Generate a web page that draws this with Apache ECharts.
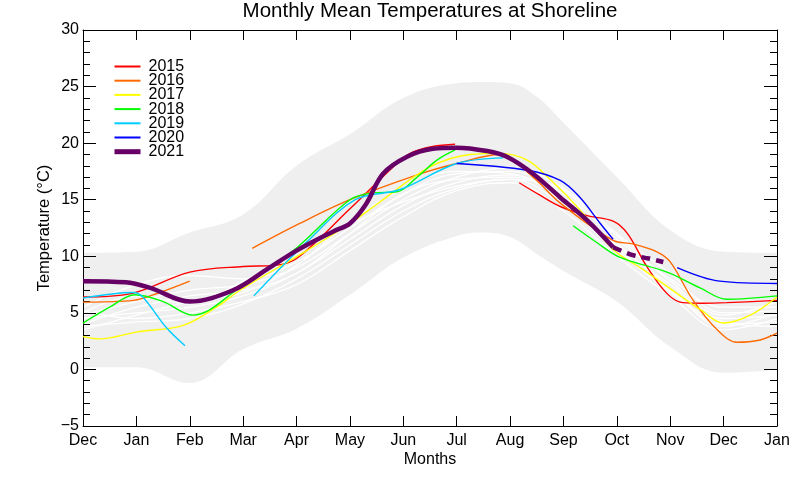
<!DOCTYPE html>
<html><head><meta charset="utf-8">
<script src="https://cdn.jsdelivr.net/npm/echarts@6/dist/echarts.min.js"></script>
<style>html,body{margin:0;padding:0;background:#fff}#c{width:800px;height:480px}</style>
</head><body><div id="c"></div>
<script>
// ---- tick labels ----
const monthTicks = ['Dec','Jan','Feb','Mar','Apr','May','Jun','Jul','Aug','Sep','Oct','Nov','Dec','Jan'];
const years = ['2015','2016','2017','2018','2019','2020','2021'];

// ---- grey envelope (x in months from Dec) ----
const bandX     = [0, 1, 2, 3, 4, 5, 6, 7, 7.5, 8, 8.5, 9, 10, 11, 12, 13];
const bandLower = [0.2, 0.2, -1.2, 1.8, 3.6, 6.6, 9.9, 11.8, 12.1, 11.7, 10.2, 8.7, 6.0, 2.0, -0.3, 0.0];
const bandUpper = [10.3, 10.4, 12.1, 13.7, 18.0, 20.8, 24.0, 25.3, 25.4, 25.3, 24.1, 21.8, 17.0, 12.3, 10.4, 10.3];

// ---- other years (white), monthly values Dec..Jan ----
const monthX = [0,1,2,3,4,5,6,7,8,9,10,11,12,13];
const climA = [4.5, 5.0, 5.5, 6.5, 8.5, 11.5, 14.5, 16.5, 17.2, 15.0, 11.0, 7.5, 4.5, 4.8];
const climB = [5.5, 7.5, 8.3, 8.0, 9.5, 12.5, 15.5, 17.3, 17.5, 15.5, 11.5, 8.0, 5.5, 5.5];
const climC = [3.8, 4.2, 4.5, 5.8, 8.0, 11.0, 14.0, 16.0, 16.8, 14.5, 10.5, 7.0, 4.0, 4.2];
const climD = [4.8, 6.0, 7.0, 7.5, 9.0, 12.0, 15.0, 17.0, 17.8, 16.0, 12.0, 8.5, 5.0, 5.2];
const climE = [5.2, 4.5, 5.0, 6.0, 7.5, 10.5, 13.5, 15.8, 16.5, 14.0, 10.0, 6.5, 3.5, 4.5];
const climF = [4.0, 5.5, 6.5, 7.0, 8.5, 12.0, 15.5, 16.8, 17.0, 15.2, 11.8, 7.8, 4.8, 6.0];
const climG = [3.5, 4.8, 6.0, 6.8, 9.2, 13.0, 16.0, 17.5, 17.3, 14.8, 10.8, 6.8, 4.2, 3.8];
const climH = [5.0, 6.5, 5.8, 7.8, 10.0, 12.8, 14.8, 16.2, 16.8, 15.8, 11.2, 7.2, 3.8, 5.0];

// ---- highlighted years: [month position, temperature] ----
const y2015a = [[0,6.4],[0.9,6.7],[2,8.6],[3,9.1],[3.6,9.2],[4,9.8],[5,14.2],[5.81,17.9],[6.13,19.1],[6.55,19.7],[6.97,19.9]];
const y2015b = [[8.17,16.5],[8.56,15.4],[8.94,14.4],[9.44,13.6],[9.93,13.1],[10.2,12.0],[10.56,9.1],[10.94,6.7],[11.24,5.9],[11.6,5.85],[12.06,5.9],[13,6.1]];
const y2016a = [[0,5.95],[0.94,6.1],[1.44,6.8],[2.0,7.8]];
const y2016b = [[3.17,10.7],[4.06,12.9],[5,15.0],[6.26,17.2],[7,18.2],[7.81,19.0],[8.43,17.0],[8.94,14.7],[9.93,11.4],[10.3,11.1],[10.75,10.4],[11.0,9.5],[11.43,6.1],[11.88,3.5],[12.25,2.4],[12.68,2.6],[13,3.2]];
const y2017  = [[0,2.9],[0.32,2.7],[1,3.3],[1.88,3.9],[2.5,5.5],[2.94,7.0],[4.12,10.3],[5,12.9],[5.56,14.8],[6.5,17.9],[7.25,19.0],[7.81,19.1],[8.32,18.5],[8.75,16.8],[9.31,14.1],[9.93,10.6],[10.5,8.8],[11.13,6.7],[11.56,5.3],[12,4.1],[12.5,4.8],[13,6.4]];
const y2018a = [[0,4.1],[0.5,5.5],[0.97,6.6],[1.5,6.0],[2.06,4.8],[2.93,7.2],[3.94,10.5],[5,15.0],[5.43,15.6],[5.88,15.7],[6.26,17.0],[6.63,18.5],[6.97,19.4]];
const y2018b = [[9.18,12.7],[9.63,11.2],[10.06,9.9],[10.94,8.6],[11.56,7.2],[12.06,6.2],[13,6.5]];
const y2019a = [[0,6.3],[0.94,6.8],[1.12,6.4],[1.56,3.7],[1.91,2.1]];
const y2019b = [[3.2,6.5],[4.2,11.3],[5.1,15.0],[5.94,15.9],[7,18.2],[7.87,18.7]];
const y2020a = [[7,18.2],[8.32,17.6],[8.94,16.7],[9.31,15.2],[9.69,12.9],[9.93,11.5]];
const y2020b = [[11.13,9.0],[11.93,7.8],[13,7.6]];
const y2021  = [[0,7.8],[0.8,7.7],[1.26,7.2],[2,6.0],[2.81,7.0],[3.43,8.8],[4,10.5],[4.69,12.2],[5,12.9],[5.3,14.6],[5.62,17.3],[6.07,18.8],[6.55,19.5],[7,19.6],[7.57,19.3],[7.94,18.8],[8.43,17.3],[8.94,15.2],[9.44,13.2],[9.93,10.8]];
const y2021f = [[9.93,10.8],[10.3,10.1],[10.6,9.8],[10.87,9.5]];

const colors = {'2015':'#ff0000','2016':'#ff6a00','2017':'#ffff00','2018':'#00ff00','2019':'#00ccff','2020':'#0000ff','2021':'#660066'};
const FONT = '"Liberation Sans", Arial, Helvetica, sans-serif';

const zip = (xs, ys) => xs.map((x, i) => [x, ys[i]]);

function yearLine(name, data, width, dashed) {
  return {
    type: 'line', name: name, data: data, smooth: 0.35, symbol: 'none', silent: true,
    lineStyle: { color: colors[name], width: width || 1.4, type: dashed ? [9, 6] : 'solid' },
    itemStyle: { color: colors[name] }, z: 5
  };
}

const series = [];
series.push({ type: 'line', name: 'bandHi', data: zip(bandX, bandUpper), smooth: 0.4, symbol: 'none',
  lineStyle: { opacity: 0 }, areaStyle: { color: '#efefef', opacity: 1, origin: 'start' }, silent: true, z: 1 });
series.push({ type: 'line', name: 'bandLo', data: zip(bandX, bandLower), smooth: 0.4, symbol: 'none',
  lineStyle: { opacity: 0 }, areaStyle: { color: '#ffffff', opacity: 1, origin: 'start' }, silent: true, z: 1 });
[climA, climB, climC, climD, climE, climF, climG, climH].forEach((c, i) => {
  series.push({ type: 'line', name: 'clim' + i, data: zip(monthX, c), smooth: 0.4, symbol: 'none', silent: true,
    lineStyle: { color: '#ffffff', width: 1.3 }, z: 2 });
});
series.push(yearLine('2015', y2015a), yearLine('2015', y2015b));
series.push(yearLine('2016', y2016a), yearLine('2016', y2016b));
series.push(yearLine('2017', y2017));
series.push(yearLine('2018', y2018a), yearLine('2018', y2018b));
series.push(yearLine('2019', y2019a), yearLine('2019', y2019b));
series.push(yearLine('2020', y2020a), yearLine('2020', y2020b));
series.push(yearLine('2021', y2021, 4.5));
const fc = yearLine('2021', y2021f, 4.5, true); fc.name = '2021 forecast'; fc.lineStyle.color = colors['2021'];
series.push(fc);

const axisCommon = {
  z: 3,
  axisLine: { show: true, onZero: false, lineStyle: { color: '#000', width: 1 } },
  splitLine: { show: false }
};

const legendData = years.map(y => ({ name: y, lineStyle: { width: y === '2021' ? 5 : 2, color: colors[y] } }));

const chart = echarts.init(document.getElementById('c'), null, { renderer: 'canvas' });
chart.setOption({
  animation: false,
  backgroundColor: '#ffffff',
  graphic: [{ type: 'text', x: 430, y: 1, style: { text: 'Monthly Mean Temperatures at Shoreline', align: 'center', verticalAlign: 'top', fontSize: 20.5, fontFamily: FONT, fill: '#000' } }],
  grid: { left: 83, right: 23, top: 30, bottom: 54 },
  legend: {
    data: legendData, orient: 'vertical', left: 112, top: 58.5, padding: 0,
    itemWidth: 26, itemHeight: 12, itemGap: -1.8,
    itemStyle: { opacity: 0 },
    textStyle: { fontSize: 16, color: '#000', fontFamily: FONT, padding: [0, 0, 0, 3] },
    selectedMode: false
  },
  xAxis: [
    Object.assign({}, axisCommon, {
      type: 'value', min: 0, max: 13, interval: 1, position: 'bottom',
      axisTick: { inside: true, length: 10, lineStyle: { color: '#000' } },
      axisLabel: { formatter: v => monthTicks[Math.round(v)], color: '#000', fontSize: 16, fontFamily: FONT, margin: 7 },
      name: 'Months', nameLocation: 'middle', nameGap: 26, nameMoveOverlap: false,
      nameTextStyle: { fontSize: 16, color: '#000', fontFamily: FONT }
    }),
    Object.assign({}, axisCommon, {
      type: 'value', min: 0, max: 13, interval: 1, position: 'top',
      axisTick: { inside: true, length: 10, lineStyle: { color: '#000' } },
      axisLabel: { show: false }
    })
  ],
  yAxis: [
    Object.assign({}, axisCommon, {
      type: 'value', min: -5, max: 30, interval: 5, position: 'left',
      axisTick: { inside: true, length: 13, lineStyle: { color: '#000' } },
      minorTick: { show: true, splitNumber: 5, length: 7, lineStyle: { color: '#000' } },
      minorSplitLine: { show: false },
      axisLabel: { color: '#000', fontSize: 16, fontFamily: FONT, margin: 4, formatter: v => String(v).replace('-', '\u2212') },
      name: 'Temperature (°C)', nameLocation: 'middle', nameGap: 30, nameRotate: 90, nameMoveOverlap: false,
      nameTextStyle: { fontSize: 16.5, color: '#000', fontFamily: FONT }
    }),
    Object.assign({}, axisCommon, {
      type: 'value', min: -5, max: 30, interval: 5, position: 'right',
      axisTick: { inside: true, length: 13, lineStyle: { color: '#000' } },
      minorTick: { show: true, splitNumber: 5, length: 7, lineStyle: { color: '#000' } },
      minorSplitLine: { show: false },
      axisLabel: { show: false }
    })
  ],
  series: series
});
</script></body></html>
